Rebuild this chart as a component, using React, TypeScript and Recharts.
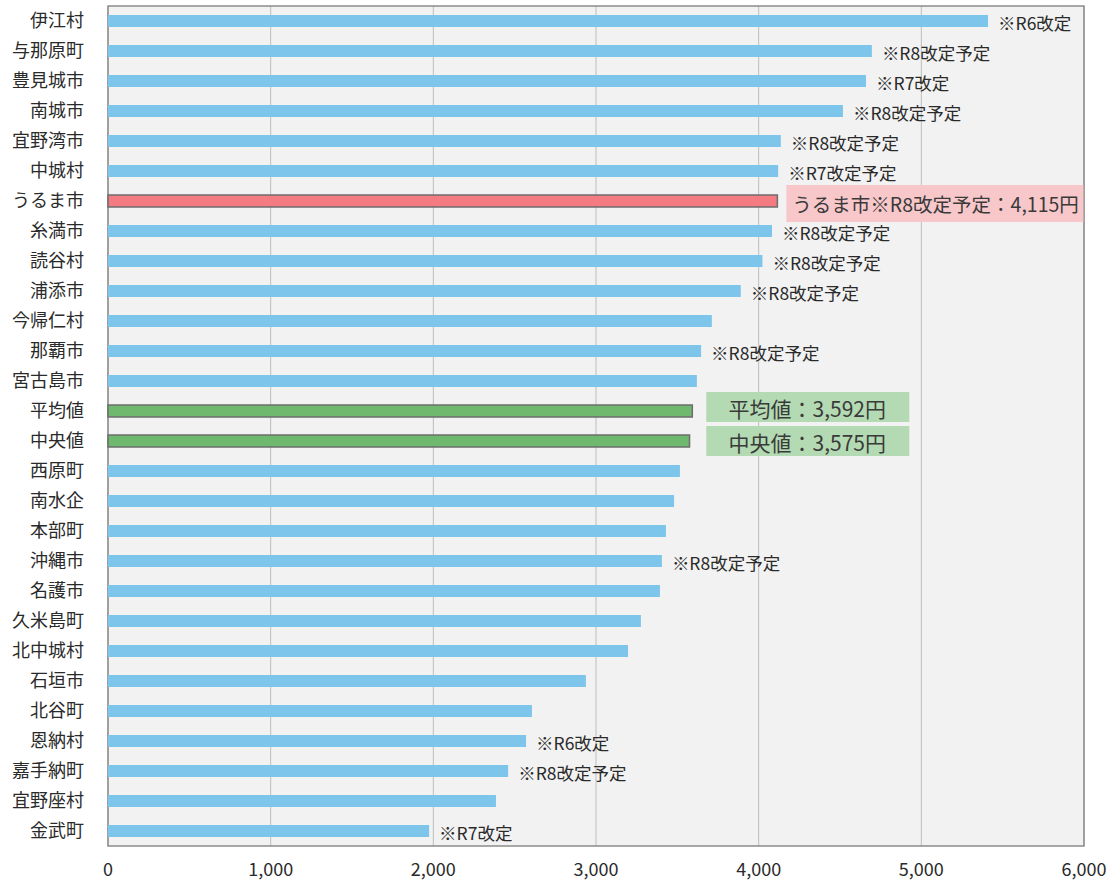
import { BarChart, Bar, XAxis, YAxis, CartesianGrid, Cell, LabelList, ReferenceArea } from "recharts";

// 自治体別の料金（円）
const cities = [
  "伊江村", "与那原町", "豊見城市", "南城市", "宜野湾市", "中城村", "うるま市",
  "糸満市", "読谷村", "浦添市", "今帰仁村", "那覇市", "宮古島市", "平均値",
  "中央値", "西原町", "南水企", "本部町", "沖縄市", "名護市", "久米島町",
  "北中城村", "石垣市", "北谷町", "恩納村", "嘉手納町", "宜野座村", "金武町",
];

const fees = [
  5410, 4696, 4660, 4518, 4136, 4120, 4115,
  4082, 4023, 3890, 3712, 3646, 3620, 3592,
  3575, 3516, 3480, 3430, 3405, 3393, 3276,
  3197, 2938, 2606, 2570, 2460, 2385, 1974,
];

const notes = [
  "※R6改定", "※R8改定予定", "※R7改定", "※R8改定予定", "※R8改定予定", "※R7改定予定", "うるま市※R8改定予定：4,115円",
  "※R8改定予定", "※R8改定予定", "※R8改定予定", "", "※R8改定予定", "", "平均値：3,592円",
  "中央値：3,575円", "", "", "", "※R8改定予定", "", "",
  "", "", "", "※R6改定", "※R8改定予定", "", "※R7改定",
];

// normal / main (うるま市) / avg / median
const kinds = [
  "normal", "normal", "normal", "normal", "normal", "normal", "main",
  "normal", "normal", "normal", "normal", "normal", "normal", "avg",
  "median", "normal", "normal", "normal", "normal", "normal", "normal",
  "normal", "normal", "normal", "normal", "normal", "normal", "normal",
];

const xTicks = [0, 1000, 2000, 3000, 4000, 5000, 6000];

const data = cities.map((name, i) => ({ name, fee: fees[i], note: notes[i], kind: kinds[i] }));

const avgFee = fees[kinds.indexOf("avg")];
const medianFee = fees[kinds.indexOf("median")];

const barColor = (kind: string) =>
  kind === "main" ? "#F47B81" : kind === "avg" || kind === "median" ? "#6FB96F" : "#7DC5EA";

function NoteLabel(props: any) {
  const vb = props.viewBox ?? props;
  const row = data[props.index];
  if (!row || !row.note) return null;
  const x = Number(vb.x);
  const w = Number(vb.width);
  const cy = Number(vb.y) + Number(vb.height) / 2;

  if (row.kind === "main") {
    const left = x + w + 9;
    return (
      <g>
        <rect x={left} y={cy - 16} width={297} height={37} fill="#F8C7CA" />
        <text x={left + 6} y={cy + 2} dominantBaseline="central" fontSize={19.5} fill="#3a3a3a">
          {row.note}
        </text>
      </g>
    );
  }

  if (row.kind === "avg" || row.kind === "median") {
    // both boxes line up just right of the longer green bar
    const peak = Math.max(avgFee, medianFee);
    const left = x + (w * peak) / row.fee + 14;
    const mid = row.kind === "avg" ? cy - 4 : cy;
    return (
      <g>
        <rect x={left} y={mid - 15} width={203} height={30} fill="#B3DAB3" />
        <text x={left + 101} y={mid + 1} textAnchor="middle" dominantBaseline="central" fontSize={21} fill="#3a3a3a">
          {row.note}
        </text>
      </g>
    );
  }

  return (
    <text x={x + w + 10} y={cy + 1} dominantBaseline="central" fontSize={17.5} fill="#2a2a2a">
      {row.note}
    </text>
  );
}

export default function App() {
  return (
    <div style={{ position: "absolute", left: 0, top: 0, fontFamily: "'Noto Sans CJK JP', 'Noto Sans', sans-serif" }}>
      <BarChart
        width={1120}
        height={883}
        data={data}
        layout="vertical"
        margin={{ top: 6, right: 36, bottom: 0, left: 0 }}
        barSize={12}
      >
        <CartesianGrid horizontal={false} stroke="#BDBDBD" fill="#F2F2F2" />
        <XAxis
          type="number"
          domain={[0, 6000]}
          ticks={xTicks}
          tickFormatter={(v: number) => v.toLocaleString("en-US")}
          axisLine={false}
          tickLine={false}
          tickMargin={11}
          height={37}
          tick={{ fontSize: 18, fill: "#2a2a2a" }}
        />
        <YAxis
          type="category"
          dataKey="name"
          width={108}
          interval={0}
          axisLine={false}
          tickLine={false}
          tickMargin={18}
          tick={{ fontSize: 18, fill: "#2a2a2a" }}
        />
        <Bar dataKey="fee" isAnimationActive={false}>
          {data.map((d) => (
            <Cell
              key={d.name}
              fill={barColor(d.kind)}
              stroke={d.kind === "normal" ? "none" : "#6E6E6E"}
              strokeWidth={1.5}
            />
          ))}
          <LabelList dataKey="note" content={NoteLabel} />
        </Bar>
        <ReferenceArea x1={0} x2={6000} fill="none" fillOpacity={0} stroke="#8C8C8C" strokeWidth={1.5} />
      </BarChart>
    </div>
  );
}
